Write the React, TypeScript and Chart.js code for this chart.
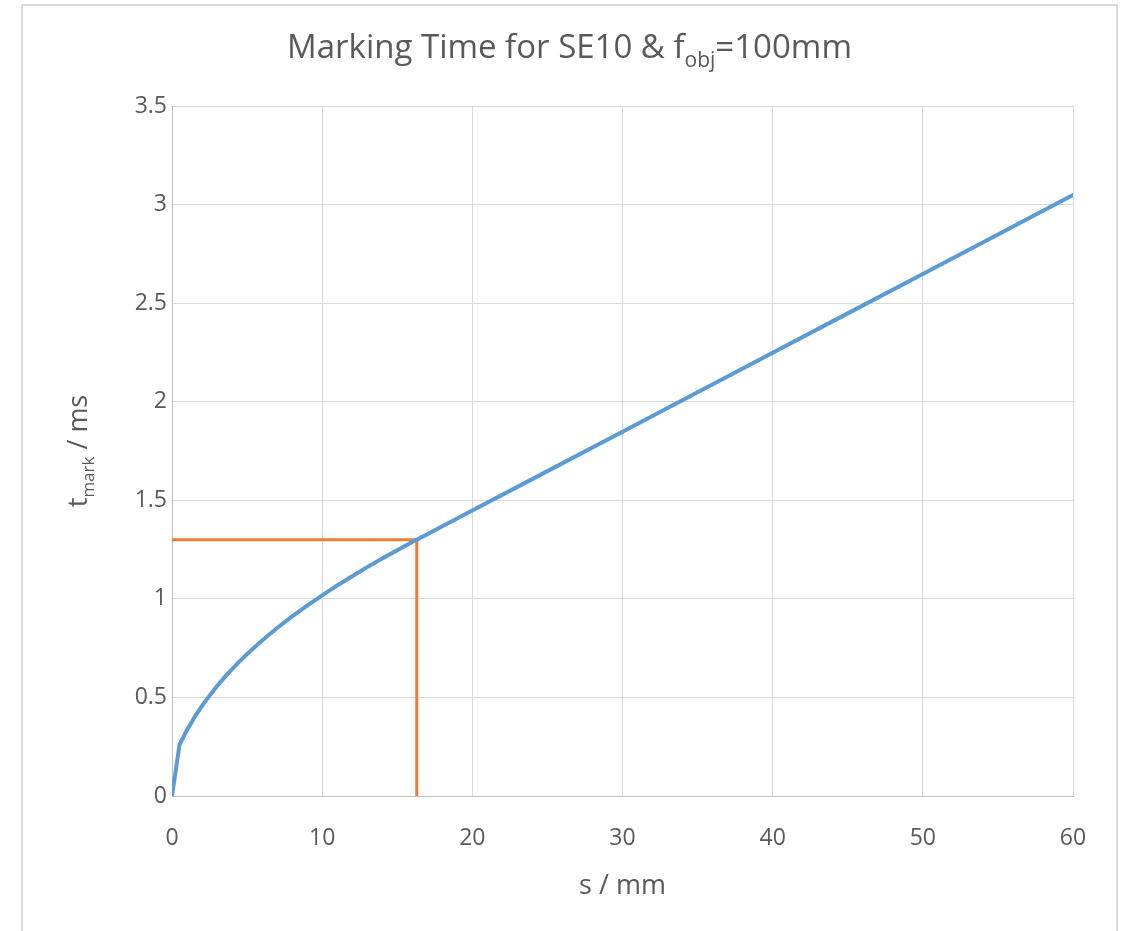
import React, { useEffect, useRef } from "react";
import { Chart, registerables } from "chart.js";

Chart.register(...registerables);

// Marking path length s (mm) and resulting marking time t_mark (ms)
const pathLength = [0, 0.5, 1, 1.5, 2, 2.5, 3, 3.5, 4, 4.5, 5, 6, 7, 8, 9, 10, 11, 12, 13, 14, 15, 16, 17, 18, 20, 25, 30, 35, 40, 45, 50, 55, 60];
const markTime = [0, 0.26, 0.335, 0.4, 0.457, 0.509, 0.558, 0.602, 0.644, 0.683, 0.72, 0.789, 0.852, 0.911, 0.966, 1.018, 1.068, 1.115, 1.161, 1.205, 1.247, 1.288, 1.328, 1.368, 1.448, 1.648, 1.848, 2.048, 2.248, 2.448, 2.648, 2.848, 3.048];

// Reference marker: read-off at t = 1.3 ms
const markerS = [0, 16.3, 16.3];
const markerT = [1.3, 1.3, 0];

const xTicks = [0, 10, 20, 30, 40, 50, 60];
const yTicks = [0, 0.5, 1, 1.5, 2, 2.5, 3, 3.5];

const titleMain = "Marking Time for SE10 & f";
const titleSub = "obj";
const titleTail = "=100mm";
const yTitleMain = "t";
const yTitleSub = "mark";
const yTitleTail = " / ms";
const xTitle = "s / mm";

const FONT = "'Open Sans', 'Noto Sans', sans-serif";
const TEXT = "#595959";

const W = 1125;
const H = 931;
const PLOT_RIGHT = 1073;
const PLOT_LEFT = 172;
const PLOT_TOP = 106;
const PLOT_BOTTOM = 796;

const decorPlugin = {
  id: "decor",
  beforeDraw(chart: any) {
    const ctx = chart.ctx;
    ctx.save();
    ctx.fillStyle = "#ffffff";
    ctx.fillRect(0, 0, W, H);
    ctx.strokeStyle = "#D9D9D9";
    ctx.lineWidth = 2;
    ctx.strokeRect(22, 5, 1095, H + 10);
    ctx.restore();
  },
  afterDraw(chart: any) {
    const ctx = chart.ctx;
    const area = chart.chartArea;
    ctx.save();
    ctx.fillStyle = TEXT;
    ctx.textBaseline = "alphabetic";

    // chart title with subscript
    const big = `33px ${FONT}`;
    const small = `21px ${FONT}`;
    ctx.font = big;
    const w1 = ctx.measureText(titleMain).width;
    const w3 = ctx.measureText(titleTail).width;
    ctx.font = small;
    const w2 = ctx.measureText(titleSub).width;
    let x = 569.5 - (w1 + w2 + w3) / 2;
    const base = 58;
    ctx.textAlign = "left";
    ctx.font = big;
    ctx.fillText(titleMain, x, base);
    x += w1;
    ctx.font = small;
    ctx.fillText(titleSub, x, base + 9);
    x += w2;
    ctx.font = big;
    ctx.fillText(titleTail, x, base);

    // x axis title
    ctx.font = `27px ${FONT}`;
    ctx.textAlign = "center";
    ctx.fillText(xTitle, (area.left + area.right) / 2, 894);

    // y axis title, rotated, with subscript
    const yb = `27px ${FONT}`;
    const ys = `17px ${FONT}`;
    ctx.font = yb;
    const a1 = ctx.measureText(yTitleMain).width;
    const a3 = ctx.measureText(yTitleTail).width;
    ctx.font = ys;
    const a2 = ctx.measureText(yTitleSub).width;
    ctx.translate(87, (area.top + area.bottom) / 2);
    ctx.rotate(-Math.PI / 2);
    ctx.textAlign = "left";
    let yx = -(a1 + a2 + a3) / 2;
    ctx.font = yb;
    ctx.fillText(yTitleMain, yx, 0);
    yx += a1;
    ctx.font = ys;
    ctx.fillText(yTitleSub, yx, 7);
    yx += a2;
    ctx.font = yb;
    ctx.fillText(yTitleTail, yx, 0);
    ctx.restore();
  },
};

export default function App() {
  const ref = useRef<HTMLCanvasElement | null>(null);

  useEffect(() => {
    if (!ref.current) return;
    const chart = new Chart(ref.current, {
      type: "line",
      data: {
        datasets: [
          {
            label: "t_mark",
            data: pathLength.map((s, i) => ({ x: s, y: markTime[i] })),
            borderColor: "#5B9BD5",
            borderWidth: 4,
            pointRadius: 0,
            tension: 0,
            borderCapStyle: "round",
            borderJoinStyle: "round",
            fill: false,
          },
          {
            label: "marker",
            data: markerS.map((s, i) => ({ x: s, y: markerT[i] })),
            borderColor: "#ED7D31",
            borderWidth: 3,
            pointRadius: 0,
            tension: 0,
            fill: false,
          },
        ],
      },
      options: {
        responsive: false,
        animation: false,
        layout: { padding: { left: 0, top: PLOT_TOP, right: W - PLOT_RIGHT, bottom: 0 } },
        plugins: {
          legend: { display: false },
          title: { display: false },
          tooltip: { enabled: false },
        },
        scales: {
          x: {
            type: "linear",
            min: 0,
            max: 60,
            afterBuildTicks: (scale: any) => {
              scale.ticks = xTicks.map((v) => ({ value: v }));
            },
            afterFit: (scale: any) => {
              scale.height = H - PLOT_BOTTOM;
            },
            grid: { color: "#D9D9D9", lineWidth: 1, drawTicks: false },
            border: { display: true, color: "#BFBFBF", width: 1 },
            ticks: { color: TEXT, font: { family: FONT, size: 23 }, padding: 29, maxRotation: 0 },
          },
          y: {
            type: "linear",
            min: 0,
            max: 3.5,
            afterBuildTicks: (scale: any) => {
              scale.ticks = yTicks.map((v) => ({ value: v }));
            },
            afterFit: (scale: any) => {
              scale.width = PLOT_LEFT;
            },
            grid: { color: "#D9D9D9", lineWidth: 1, drawTicks: false },
            border: { display: true, color: "#BFBFBF", width: 1 },
            ticks: {
              color: TEXT,
              font: { family: FONT, size: 23 },
              padding: 5,
              callback: (v: any) => String(Number(v)),
            },
          },
        },
      },
      plugins: [decorPlugin],
    });
    return () => chart.destroy();
  }, []);

  return (
    <div style={{ position: "fixed", left: 0, top: 0, width: W, height: H, background: "#fff" }}>
      <canvas ref={ref} width={W} height={H} style={{ width: W, height: H, display: "block" }} />
    </div>
  );
}
